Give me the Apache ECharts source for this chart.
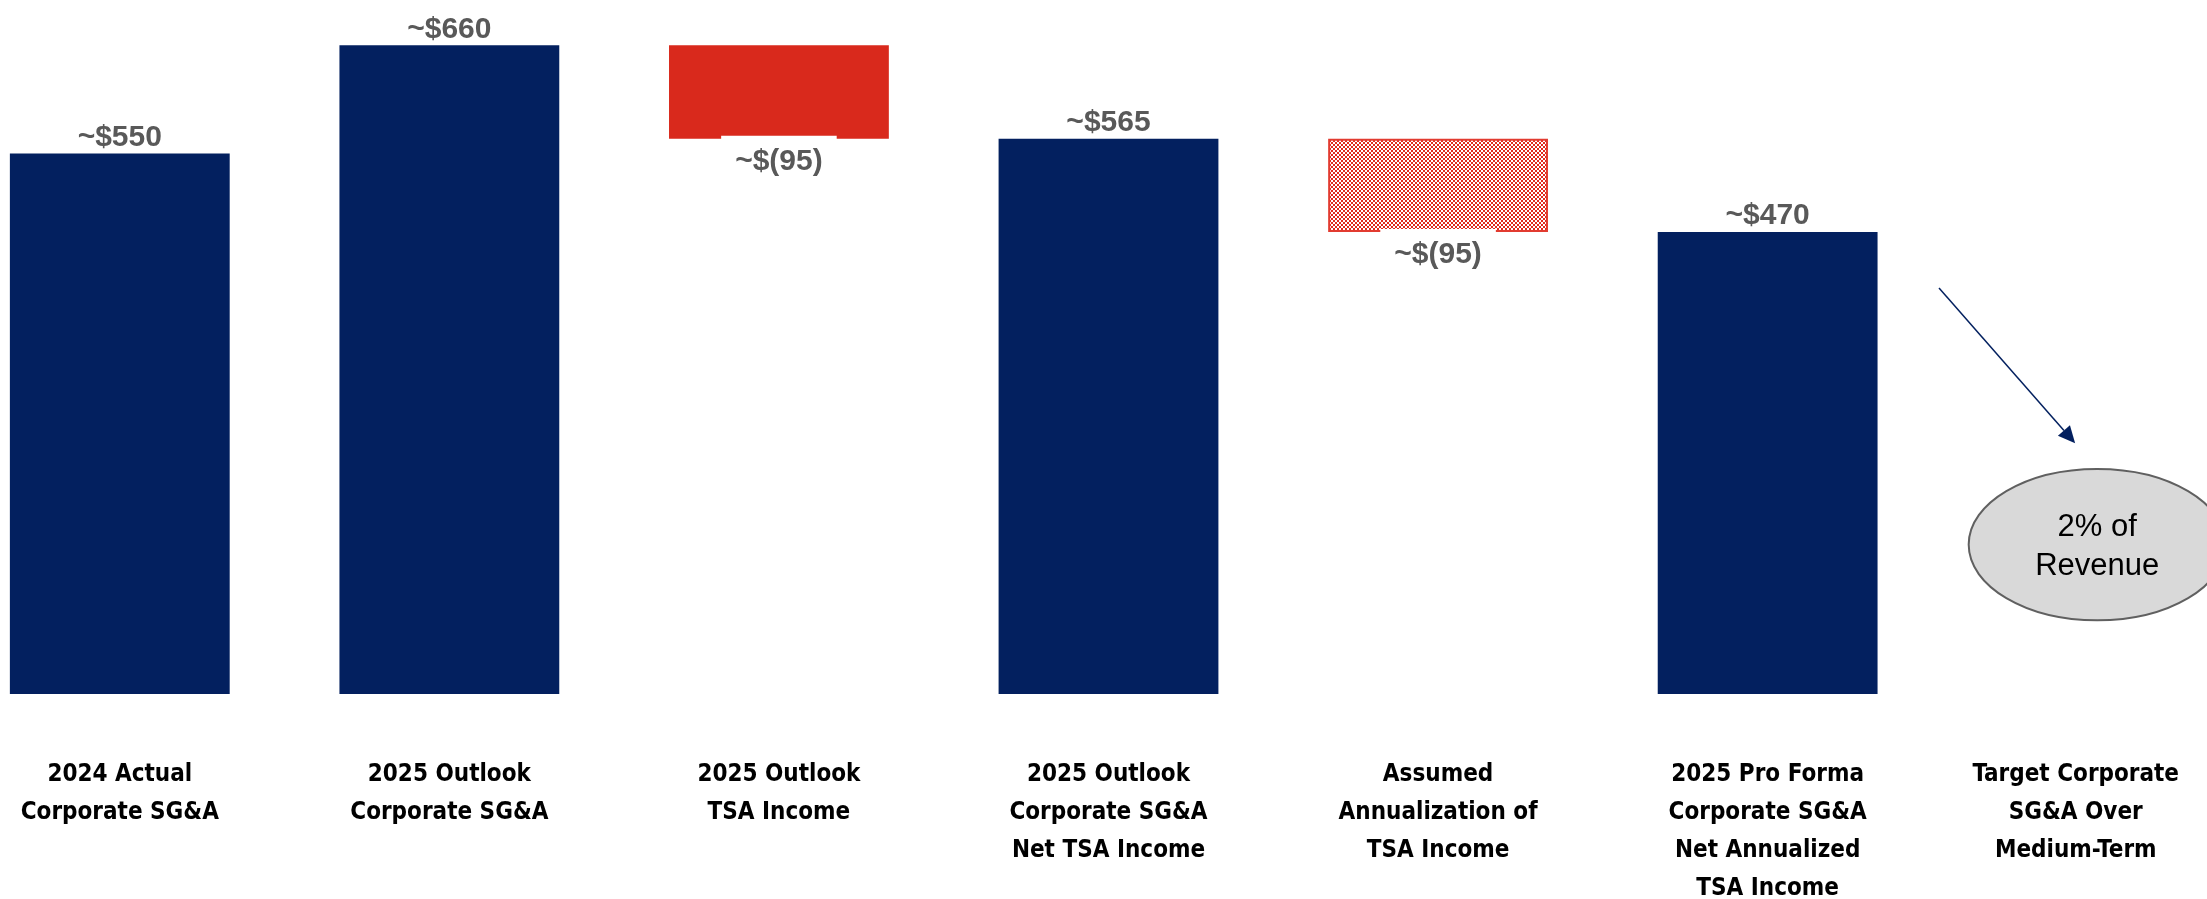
<!DOCTYPE html>
<html><head><meta charset="utf-8">
<script src="https://cdn.jsdelivr.net/npm/echarts/dist/echarts.min.js"></script>
<style>html,body{margin:0;padding:0;background:#fff;overflow:hidden;width:2207px;height:899px}
#c{position:absolute;left:-45px;top:0;width:2307px;height:899px}</style>
</head><body><div id="c"></div>
<script>
// ---- data ----
const categories = [
  '2024 Actual\nCorporate SG&A',
  '2025 Outlook\nCorporate SG&A',
  '2025 Outlook\nTSA Income',
  '2025 Outlook\nCorporate SG&A\nNet TSA Income',
  'Assumed\nAnnualization of\nTSA Income',
  '2025 Pro Forma\nCorporate SG&A\nNet Annualized\nTSA Income',
  'Target Corporate\nSG&A Over\nMedium-Term'
];
const totals      = [550, 660, '-', 565, '-', 470, '-'];
const stepBase    = ['-', '-', 565, '-', 470, '-', '-'];
const stepDelta   = ['-', '-', 95, '-', 95, '-', '-'];
const totalLabels = ['~$550', '~$660', '', '~$565', '', '~$470', ''];
const deltaLabels = ['', '', '~$(95)', '', '~$(95)', '', ''];
const annotationText = '2% of\nRevenue';
const arrowStart = [6, -0.48, 413];   // category, band offset, value
const arrowEnd   = [6, -0.067, 255];
const ellipseAt  = [6, 0, 152];
const ellipseRadiusBand = 0.39;
const ellipseRadiusValue = 77;

// ---- styles ----
const NAVY = '#03205f';
const RED = '#d9291c';
const pat = document.createElement('canvas');
pat.width = 8; pat.height = 8;
(function(){
  const g = pat.getContext('2d');
  g.fillStyle = '#e02a1e'; g.fillRect(0,0,8,8);
  g.fillStyle = '#ffffff';
  for (let i=0;i<4;i++) for (let j=0;j<4;j++) if ((i+j)%2===0) g.fillRect(i*2,j*2,2,2);
  g.fillRect(2,2,2,2);
})();

const valueFont = {fontFamily:'"Liberation Sans", Arial, sans-serif', fontWeight:'bold', fontSize:30, color:'#595959'};
const catFont = '"DejaVu Sans Condensed", "Liberation Sans", sans-serif';

const chart = echarts.init(document.getElementById('c'));
chart.setOption({
  animation: false,
  backgroundColor: '#fff',
  grid: {left: 0, right: 0, top: 6, bottom: 205, containLabel: false, outerBoundsMode: 'none'},
  xAxis: {
    type: 'category', data: categories,
    axisLine: {show:false}, axisTick: {show:false},
    axisLabel: {
      interval: 0, margin: 62, fontFamily: catFont, fontWeight: 'bold', fontSize: 24,
      lineHeight: 38, color: '#000',
      formatter: (v, i) => i === 6 ? v.split('\n').map(s => '{s|' + s + '}').join('\n') : v,
      rich: {s: {fontFamily: catFont, fontWeight: 'bold', fontSize: 24, lineHeight: 38, color: '#000', padding: [0, 43, 0, 0]}}
    }
  },
  yAxis: {type: 'value', min: 0, max: 700, show: false, splitLine: {show:false}},
  series: [
    {
      type: 'bar', stack: 'wf', data: totals, barCategoryGap: '33.3%',
      itemStyle: {color: NAVY},
      label: {show: true, position: 'top', distance: 1, formatter: p => totalLabels[p.dataIndex], ...valueFont}
    },
    {
      type: 'bar', stack: 'wf', data: stepBase,
      itemStyle: {color: 'rgba(0,0,0,0)'}, label: {show:false}, emphasis: {disabled: true}
    },
    {
      type: 'bar', stack: 'wf',
      data: stepDelta.map((v, i) => i === 4 ? {value: v, itemStyle: {color: {image: pat, repeat: 'repeat'}, borderColor: '#e23b30', borderWidth: 2}} : v),
      itemStyle: {color: RED},
      label: {show: true, position: 'bottom', distance: -3, formatter: p => deltaLabels[p.dataIndex],
        backgroundColor: '#fff', padding: [11, 14, 0, 14], ...valueFont}
    }
  ]
});

function px(cat, off, val) {
  const a = chart.convertToPixel({gridIndex: 0}, [cat, val]);
  const b = chart.convertToPixel({gridIndex: 0}, [cat - 1, val]);
  return [a[0] + off * (a[0] - b[0]), a[1]];
}
const s = px(...arrowStart), t = px(...arrowEnd);
const dx = t[0] - s[0], dy = t[1] - s[1], L = Math.hypot(dx, dy);
const ux = dx / L, uy = dy / L, hl = 17, hw = 8;
const base = [t[0] - ux * hl, t[1] - uy * hl];
const ec = px(...ellipseAt);
const band = px(6, 0, 0)[0] - px(5, 0, 0)[0];
const ry = chart.convertToPixel({gridIndex:0}, [6, 0])[1] - chart.convertToPixel({gridIndex:0}, [6, ellipseRadiusValue])[1];
chart.setOption({
  graphic: [
    {type: 'line', shape: {x1: s[0], y1: s[1], x2: base[0], y2: base[1]}, style: {stroke: NAVY, lineWidth: 1.5}},
    {type: 'polygon', shape: {points: [t, [base[0] - uy * hw, base[1] + ux * hw], [base[0] + uy * hw, base[1] - ux * hw]]}, style: {fill: NAVY}},
    {type: 'ellipse', shape: {cx: ec[0], cy: ec[1], rx: ellipseRadiusBand * band, ry: ry}, style: {fill: '#d9d9d9', stroke: '#606060', lineWidth: 2}},
    {type: 'text', x: ec[0], y: ec[1] + 2, style: {text: annotationText, fill: '#000', font: '31px "Liberation Sans", Arial, sans-serif', lineHeight: 39, align: 'center', verticalAlign: 'middle'}}
  ]
});
</script>
</body></html>
